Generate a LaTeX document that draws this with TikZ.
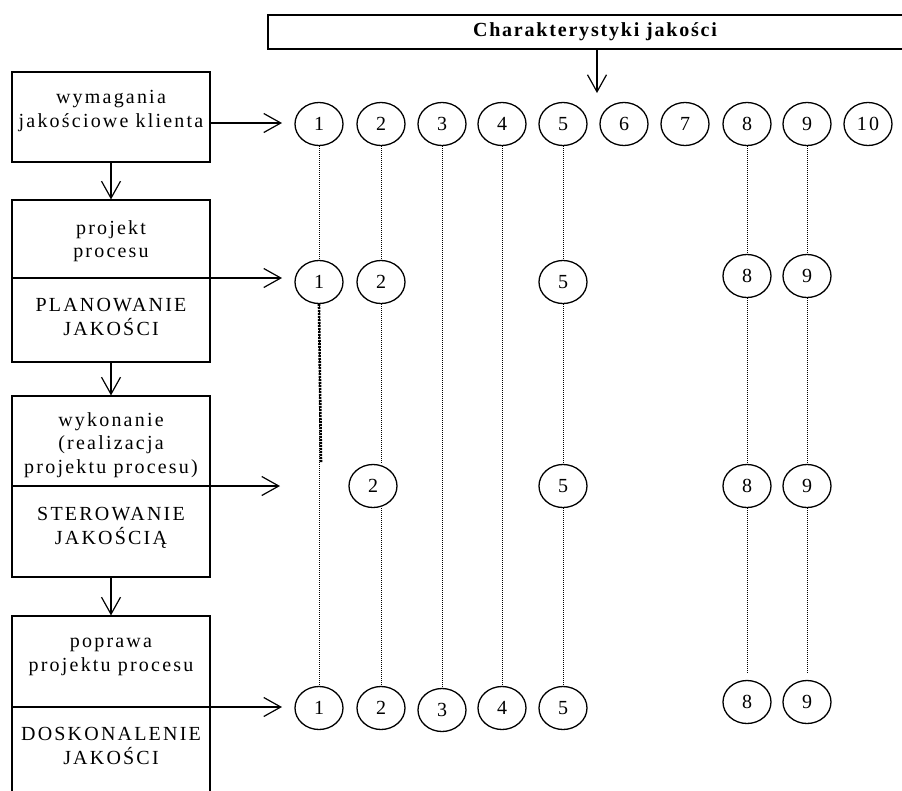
\documentclass[tikz,border=0pt]{standalone}
\usepackage{fontspec}
\setmainfont{Liberation Serif}
\newfontfamily\spaced[LetterSpace=11]{Liberation Serif}
\newfontfamily\spacedtitle[LetterSpace=9]{Liberation Serif}
\usetikzlibrary{arrows.meta,shapes.geometric}
\begin{document}
\begin{tikzpicture}[x=1pt,y=-1pt,
  stagebox/.style={draw,line width=1.2pt,inner sep=0pt,minimum width=198pt},
  titlebox/.style={draw,line width=1.6pt,inner sep=0pt,minimum width=650pt,minimum height=34pt},
  label/.style={inner sep=0pt,align=center,font=\spaced\fontsize{20}{23.5}\selectfont},
  charc/.style={draw,ellipse,line width=1.3pt,inner sep=0pt,minimum width=48pt,minimum height=43pt,
    font=\spaced\fontsize{20}{22}\selectfont},
  flow/.style={line width=1.2pt,-{Straight Barb[length=17pt,width=19pt,line width=1.2pt]}},
  thin dots/.style={line width=0.8pt,dash pattern=on 1pt off 1pt},
  thick dots/.style={line width=2.6pt,dash pattern=on 2pt off 1pt}]
\useasboundingbox (0,0) rectangle (902,790);

% header bar
\node[titlebox] (title) at (593,32) {};
\node[inner sep=0pt,font=\spacedtitle\bfseries\fontsize{20}{22}\selectfont] (titletext) at (595,32) {Charakterystyki jakości};

% stage boxes on the left
\node[stagebox,minimum height=90pt] (b1) at (111,117) {};
\node[stagebox,minimum height=162pt] (b2) at (111,281) {};
\node[stagebox,minimum height=181pt] (b3) at (111,486.5) {};
\node[stagebox,minimum height=184pt] (b4) at (111,708) {};

\node[label] (t1) at (111,111) {wymagania\\jakościowe klienta};
\node[label] (t2a) at (111,241) {projekt\\procesu};
\node[label] (t2b) at (111,317) {PLANOWANIE\\JAKOŚCI};
\node[label] (t3a) at (111,445) {wykonanie\\(realizacja\\projektu procesu)};
\node[label] (t3b) at (111,528) {STEROWANIE\\JAKOŚCIĄ};
\node[label] (t4a) at (111,657) {poprawa\\projektu procesu};
\node[label] (t4b) at (111,746) {DOSKONALENIE\\JAKOŚCI};

% row 1: all characteristics
\foreach \n/\x in {1/319,2/381,3/442,4/502,5/563,6/624,7/685,8/747,9/807,10/868}
  \node[charc] (r1c\n) at (\x,124) {\n};

% row 2: planning
\node[charc] (r2c1) at (319,282) {1};
\node[charc] (r2c2) at (381,282) {2};
\node[charc] (r2c5) at (563,282) {5};
\node[charc] (r2c8) at (747,276) {8};
\node[charc] (r2c9) at (807,276) {9};

% row 3: control
\node[charc] (r3c2) at (373,486) {2};
\node[charc] (r3c5) at (563,486) {5};
\node[charc] (r3c8) at (747,486) {8};
\node[charc] (r3c9) at (807,486) {9};

% row 4: improvement
\node[charc] (r4c1) at (319,708) {1};
\node[charc] (r4c2) at (381,708) {2};
\node[charc] (r4c3) at (442,710) {3};
\node[charc] (r4c4) at (502,708) {4};
\node[charc] (r4c5) at (563,708) {5};
\node[charc] (r4c8) at (747,702) {8};
\node[charc] (r4c9) at (807,702) {9};

% free ends
\coordinate (h1) at (12,123);
\coordinate (e1) at (282,123);
\coordinate (h2) at (12,278);
\coordinate (e2) at (282,278);
\coordinate (h3) at (12,486);
\coordinate (e3) at (280,486);
\coordinate (h4) at (12,707);
\coordinate (e4) at (282,707);
\coordinate (tdrop) at (597,93);
\coordinate (k1) at (321,463);
\coordinate (end8) at (749,673);
\coordinate (end9) at (809,673);

% flow arrows
\draw[flow] (b1.south) -- (b2.north);
\draw[flow] (b2.south) -- (b3.north);
\draw[flow] (b3.south) -- (b4.north);
\draw[flow] (b1.east |- h1) -- (e1);
\draw[line width=1.2pt] (h2) -- (b2.east |- h2);
\draw[flow] (b2.east |- h2) -- (e2);
\draw[line width=1.2pt] (h3) -- (b3.east |- h3);
\draw[flow] (b3.east |- h3) -- (e3);
\draw[line width=1.2pt] (h4) -- (b4.east |- h4);
\draw[flow] (b4.east |- h4) -- (e4);
\draw[flow] (title.south -| tdrop) -- (tdrop);

% dotted links between rows
\draw[thin dots] (r1c1) -- (r2c1);
\draw[thin dots] (r2c1.south) -- (r4c1.north);
\draw[thick dots] (r2c1.south) -- (k1);
\draw[thin dots] (r1c2) -- (r2c2);
\draw[thin dots] (r2c2.south) -- (r3c2.north -| r2c2);
\draw[thin dots] (r3c2.south -| r2c2) -- (r4c2.north);
\draw[thin dots] (r1c3) -- (r4c3);
\draw[thin dots] (r1c4) -- (r4c4);
\draw[thin dots] (r1c5) -- (r2c5);
\draw[thin dots] (r2c5) -- (r3c5);
\draw[thin dots] (r3c5) -- (r4c5);
\draw[thin dots] (r1c8) -- (r2c8);
\draw[thin dots] (r2c8) -- (r3c8);
\draw[thin dots] (r3c8.south) -- (r3c8.south |- end8);
\draw[thin dots] (r1c9) -- (r2c9);
\draw[thin dots] (r2c9) -- (r3c9);
\draw[thin dots] (r3c9.south) -- (r3c9.south |- end9);
\end{tikzpicture}
\end{document}
